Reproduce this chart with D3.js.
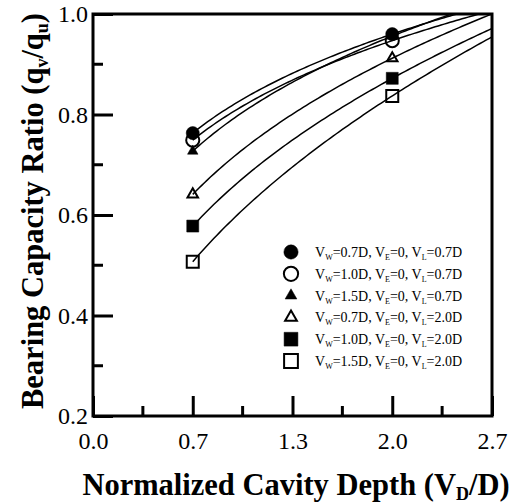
<!DOCTYPE html>
<html>
<head>
<meta charset="utf-8">
<script src="https://cdn.jsdelivr.net/npm/d3@7"></script>
<style>
  body { margin: 0; background: #fff; }
  svg { display: block; }
</style>
</head>
<body>
<script>
// DATA
const xTickLabels = ['0.0', '0.7', '1.3', '2.0', '2.7'];
const xTicks = [0, 0.7, 1.3, 2.0, 2.7];
const yTicks = [0.2, 0.4, 0.6, 0.8, 1.0];
const cavityDepth = [0.7, 2.0];
const seriesW = ['0.7D', '1.0D', '1.5D', '0.7D', '1.0D', '1.5D'];
const seriesL = ['0.7D', '0.7D', '0.7D', '2.0D', '2.0D', '2.0D'];
const seriesShape = ['circle', 'circle', 'triangle', 'triangle', 'square', 'square'];
const seriesFilled = [true, false, true, false, true, false];
const ratioValues = [
    [0.763, 0.960],
    [0.749, 0.947],
    [0.727, 0.956],
    [0.641, 0.912],
    [0.578, 0.872],
    [0.507, 0.837]
];

// SIZES
const WIDTH = 518;
const HEIGHT = 504;
const LEFT = 93, RIGHT = 492, TOP = 14, BOTTOM = 416;
const SERIF = '"Liberation Serif", "Times New Roman", serif';

const svg = d3.select('body').append('svg')
    .attr('width', WIDTH)
    .attr('height', HEIGHT)
    .style('font-family', SERIF);

// x axis is drawn with evenly spaced ticks, so map value -> tick index -> pixel
const xIndex = d3.scaleLinear().domain(xTicks).range(d3.range(xTicks.length));
const xPix = d3.scaleLinear().domain([0, xTicks.length - 1]).range([LEFT, RIGHT]);
const x = v => xPix(xIndex(v));
const y = d3.scaleLinear().domain([0.2, 1.0]).range([BOTTOM, TOP]);

// clip
svg.append('clipPath').attr('id', 'plotclip')
    .append('rect').attr('x', LEFT).attr('y', TOP)
    .attr('width', RIGHT - LEFT).attr('height', BOTTOM - TOP);

// power fit y = a * t^b through the two points (t = tick-index position)
const fitted = ratioValues.map(function (vals) {
    const t1 = xIndex(cavityDepth[0]), t2 = xIndex(cavityDepth[1]);
    const b = Math.log(vals[1] / vals[0]) / Math.log(t2 / t1);
    const a = vals[0] / Math.pow(t1, b);
    const tEnd = xTicks.length - 1;
    const pts = d3.range(0, 101).map(function (i) {
        const t = t1 + (tEnd - t1) * i / 100;
        return [xPix(t), y(a * Math.pow(t, b))];
    });
    return pts;
});

svg.append('g').attr('clip-path', 'url(#plotclip)')
    .selectAll('path').data(fitted).enter()
    .append('path')
    .attr('d', d3.line())
    .attr('fill', 'none')
    .attr('stroke', '#000')
    .attr('stroke-width', 1.5);

// symbols
const symType = { circle: d3.symbolCircle, triangle: d3.symbolTriangle, square: d3.symbolSquare };
const plotSize = { circle: 135, triangle: 48, square: 144 };
const legendSize = { circle: 160, triangle: 60, square: 190 };

function drawSymbol(g, shape, filled, size) {
    g.append('path')
        .attr('d', d3.symbol().type(symType[shape]).size(size[shape])())
        .attr('fill', filled ? '#000' : 'none')
        .attr('stroke', '#000')
        .attr('stroke-width', filled ? 0.5 : 2);
}

// markers, last series first so filled circles end on top
const markers = svg.append('g');
d3.range(ratioValues.length).reverse().forEach(function (s) {
    ratioValues[s].forEach(function (v, i) {
        const g = markers.append('g')
            .attr('transform', 'translate(' + x(cavityDepth[i]) + ',' + y(v) + ')');
        drawSymbol(g, seriesShape[s], seriesFilled[s], plotSize);
    });
});

// frame
svg.append('rect')
    .attr('x', LEFT).attr('y', TOP)
    .attr('width', RIGHT - LEFT).attr('height', BOTTOM - TOP)
    .attr('fill', 'none').attr('stroke', '#000').attr('stroke-width', 3);

// y axis
const yAxis = svg.append('g')
    .attr('transform', 'translate(' + LEFT + ',0)')
    .call(d3.axisLeft(y).tickValues(yTicks).tickSize(-20).tickPadding(5).tickFormat(d3.format('.1f')));
yAxis.select('.domain').remove();
yAxis.selectAll('.tick line').attr('stroke-width', 3);
yAxis.selectAll('.tick text').attr('font-size', 24).attr('font-family', SERIF).attr('fill', '#000');

const yMinor = d3.range(yTicks.length - 1).map(i => (yTicks[i] + yTicks[i + 1]) / 2);
svg.append('g').selectAll('line').data(yMinor).enter().append('line')
    .attr('x1', LEFT).attr('x2', LEFT + 10)
    .attr('y1', d => y(d)).attr('y2', d => y(d))
    .attr('stroke', '#000').attr('stroke-width', 3);

// x axis
const xAxis = svg.append('g')
    .attr('transform', 'translate(0,' + BOTTOM + ')')
    .call(d3.axisBottom(xPix).tickValues(d3.range(xTicks.length)).tickSize(-20).tickPadding(16)
        .tickFormat((d, i) => xTickLabels[i]));
xAxis.select('.domain').remove();
xAxis.selectAll('.tick line').attr('stroke-width', 3);
xAxis.selectAll('.tick text').attr('font-size', 24).attr('font-family', SERIF).attr('fill', '#000');

const xMinor = d3.range(xTicks.length - 1).map(i => i + 0.5);
svg.append('g').selectAll('line').data(xMinor).enter().append('line')
    .attr('x1', d => xPix(d)).attr('x2', d => xPix(d))
    .attr('y1', BOTTOM).attr('y2', BOTTOM - 10)
    .attr('stroke', '#000').attr('stroke-width', 3);

// axis titles
const xTitle = svg.append('text')
    .attr('x', 296).attr('y', 495)
    .attr('text-anchor', 'middle')
    .attr('font-size', 30.5).attr('font-weight', 'bold');
xTitle.append('tspan').text('Normalized Cavity Depth (V');
xTitle.append('tspan').attr('font-size', 18).attr('dy', 5).text('D');
xTitle.append('tspan').attr('dy', -5).text('/D)');

const yTitle = svg.append('text')
    .attr('transform', 'translate(43,' + 211 + ') rotate(-90)')
    .attr('text-anchor', 'middle')
    .attr('font-size', 30.5).attr('font-weight', 'bold');
yTitle.append('tspan').text('Bearing Capacity Ratio (q');
yTitle.append('tspan').attr('font-size', 18).attr('dy', 5).text('v');
yTitle.append('tspan').attr('dy', -5).text('/q');
yTitle.append('tspan').attr('font-size', 18).attr('dy', 5).text('u');
yTitle.append('tspan').attr('dy', -5).text(')');

// legend
const LEG_X = 291, LEG_Y = 252, LEG_STEP = 21.8;
seriesW.forEach(function (w, i) {
    const g = svg.append('g')
        .attr('transform', 'translate(' + LEG_X + ',' + (LEG_Y + i * LEG_STEP) + ')');
    drawSymbol(g, seriesShape[i], seriesFilled[i], legendSize);
    const t = g.append('text').attr('x', 24).attr('y', 5).attr('font-size', 14);
    t.append('tspan').text('V');
    t.append('tspan').attr('font-size', 8).attr('dy', 3).text('W');
    t.append('tspan').attr('dy', -3).text('=' + w + ', V');
    t.append('tspan').attr('font-size', 8).attr('dy', 3).text('E');
    t.append('tspan').attr('dy', -3).text('=0, V');
    t.append('tspan').attr('font-size', 8).attr('dy', 3).text('L');
    t.append('tspan').attr('dy', -3).text('=' + seriesL[i]);
});
</script>
</body>
</html>
